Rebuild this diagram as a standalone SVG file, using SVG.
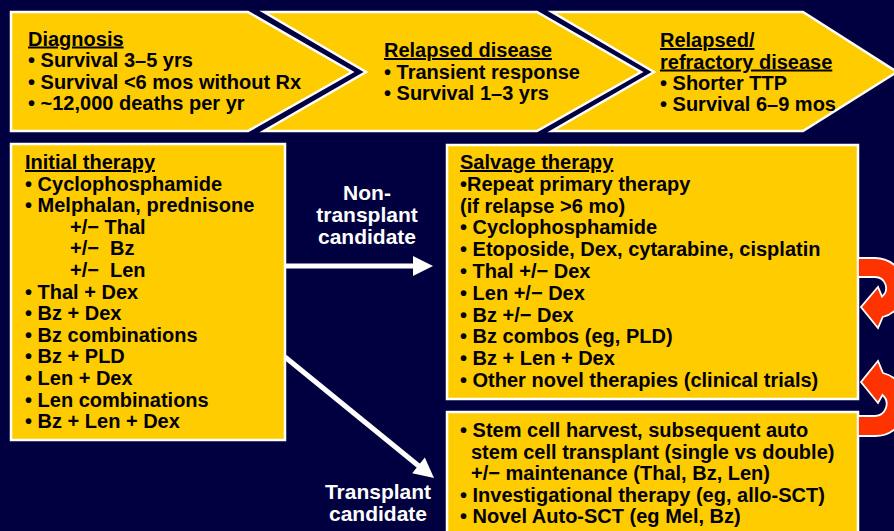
<svg xmlns="http://www.w3.org/2000/svg" width="894" height="531" viewBox="0 0 894 531">
<style>
.bg{fill:#000040}
.box{fill:#FFCC00;stroke:#FFFFFF;stroke-width:2.5;stroke-linejoin:miter}
.t{font-family:"Liberation Sans",Arial,sans-serif;font-weight:bold;font-size:20px;fill:#000000}
.u{text-decoration:underline}
.w{font-family:"Liberation Sans",Arial,sans-serif;font-weight:bold;font-size:21px;fill:#FFFFFF;text-anchor:middle}
.ln{stroke:#FFFFFF;stroke-width:5;fill:none}
.hd{fill:#FFFFFF}
.red{fill:#FF3300;stroke:#FFFFFF;stroke-width:1.8;stroke-linejoin:miter}
</style>
<rect class="bg" x="0" y="0" width="894" height="531"/>

<g id="diagnosis">
<polygon class="box" points="11,12 248,12 352,72 248,131 11,131"/>
<text class="t u" x="28" y="45.5">Diagnosis</text>
<text class="t" x="28" y="67">• Survival 3–5 yrs</text>
<text class="t" x="28" y="88.5">• Survival &lt;6 mos without Rx</text>
<text class="t" x="28" y="110">• ~12,000 deaths per yr</text>
</g>

<g id="relapsed">
<polygon class="box" points="264,12 537,12 641,72 537,131 264,131 366,72"/>
<text class="t u" x="384" y="57">Relapsed disease</text>
<text class="t" x="384" y="78.5">• Transient response</text>
<text class="t" x="384" y="100">• Survival 1–3 yrs</text>
</g>

<g id="refractory">
<polygon class="box" points="552,12 803,12 897,72 803,131 552,131 654,72"/>
<text class="t u" x="660" y="47">Relapsed/</text>
<text class="t u" x="660" y="68.5">refractory disease</text>
<text class="t" x="660" y="90">• Shorter TTP</text>
<text class="t" x="660" y="111">• Survival 6–9 mos</text>
</g>

<g id="initial">
<rect class="box" x="11" y="144" width="274" height="296"/>
<text class="t u" x="25" y="169">Initial therapy</text>
<text class="t" x="25" y="190.6">• Cyclophosphamide</text>
<text class="t" x="25" y="212.2">• Melphalan, prednisone</text>
<text class="t" x="70" y="233.8">+/− Thal</text>
<text class="t" x="70" y="255.4" xml:space="preserve">+/−  Bz</text>
<text class="t" x="70" y="277" xml:space="preserve">+/−  Len</text>
<text class="t" x="25" y="298.6">• Thal + Dex</text>
<text class="t" x="25" y="320.2">• Bz + Dex</text>
<text class="t" x="25" y="341.8">• Bz combinations</text>
<text class="t" x="25" y="363.4">• Bz + PLD</text>
<text class="t" x="25" y="385">• Len + Dex</text>
<text class="t" x="25" y="406.6">• Len combinations</text>
<text class="t" x="25" y="428.2">• Bz + Len + Dex</text>
</g>

<g id="salvage">
<rect class="box" x="447" y="145" width="411" height="254"/>
<text class="t u" x="460" y="169">Salvage therapy</text>
<text class="t" x="460" y="190.8">•Repeat primary therapy</text>
<text class="t" x="460" y="212.6">(if relapse &gt;6 mo)</text>
<text class="t" x="460" y="234.4">• Cyclophosphamide</text>
<text class="t" x="460" y="256.2">• Etoposide, Dex, cytarabine, cisplatin</text>
<text class="t" x="460" y="278">• Thal +/− Dex</text>
<text class="t" x="460" y="299.8">• Len +/− Dex</text>
<text class="t" x="460" y="321.6">• Bz +/− Dex</text>
<text class="t" x="460" y="343.4">• Bz combos (eg, PLD)</text>
<text class="t" x="460" y="365.2">• Bz + Len + Dex</text>
<text class="t" x="460" y="387">• Other novel therapies (clinical trials)</text>
</g>

<g id="transplant">
<rect class="box" x="447" y="412" width="411" height="130"/>
<text class="t" x="460" y="437">• Stem cell harvest, subsequent auto</text>
<text class="t" x="471" y="458.6">stem cell transplant (single vs double)</text>
<text class="t" x="471" y="480.2">+/− maintenance (Thal, Bz, Len)</text>
<text class="t" x="460" y="501.8">• Investigational therapy (eg, allo-SCT)</text>
<text class="t" x="460" y="523.4">• Novel Auto-SCT (eg Mel, Bz)</text>
</g>

<g id="connectors">
<line class="ln" x1="285" y1="266" x2="415" y2="266"/>
<polygon class="hd" points="413,256 433,266 413,276"/>
<line class="ln" x1="285" y1="357" x2="420" y2="467"/>
<polygon class="hd" points="434,478 412.2,473.2 424.8,457.6"/>
<path class="red" d="M858,258 L875,258 A30,30 0 0 1 882.7,317 L878,328 L861,307 L878,287 L882,296.5 A11,11 0 0 0 875,277 L858,277 Z"/>
<path class="red" d="M858,436 L875,436 A32,32 0 0 0 883,373 L878,361 L861,382 L878,403 L882.5,395 A12,12 0 0 1 875,416 L858,416 Z"/>
</g>

<g id="labels">
<text class="w" x="367" y="200">Non-</text>
<text class="w" x="367" y="222">transplant</text>
<text class="w" x="367" y="244">candidate</text>
<text class="w" x="378" y="499">Transplant</text>
<text class="w" x="378" y="521">candidate</text>
</g>
</svg>
